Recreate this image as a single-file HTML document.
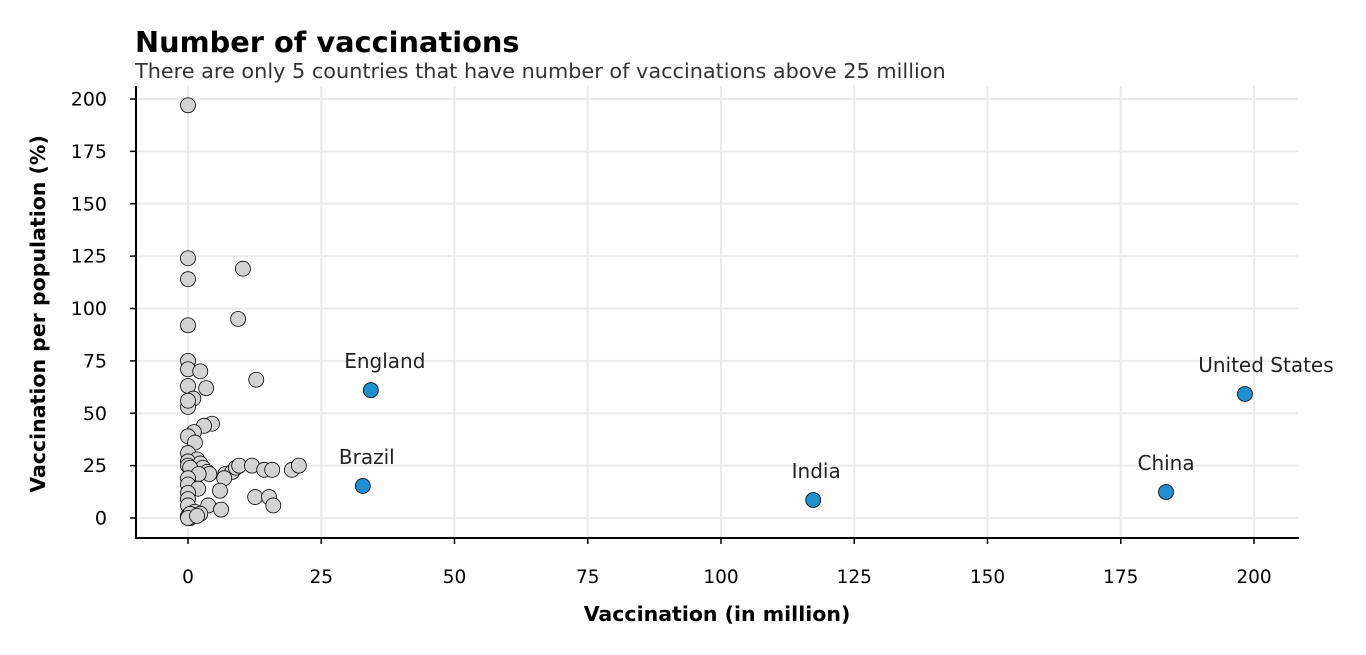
<!DOCTYPE html>
<html><head><meta charset="utf-8"><style>
body{margin:0;background:#fff;}
svg{display:block;font-family:"DejaVu Sans","Liberation Sans",sans-serif;}
</style></head><body>
<svg id="chart" width="1366" height="655">
<text x="135" y="52" font-size="28.8" font-weight="bold" fill="#000">Number of vaccinations</text>
<text x="135" y="78" font-size="20.8" fill="#333">There are only 5 countries that have number of vaccinations above 25 million</text>
<g id="grid"></g>
<g id="axes"></g>
<g id="points"></g>
<text x="717" y="621" font-size="20.5" font-weight="bold" text-anchor="middle">Vaccination (in million)</text>
<text transform="translate(45,314) rotate(-90)" font-size="20.5" font-weight="bold" text-anchor="middle">Vaccination per population (%)</text>
</svg>
<script>
const xTicks=[0,25,50,75,100,125,150,175,200];
const yTicks=[0,25,50,75,100,125,150,175,200];
const grayX=[0,0,0,10.3,0,9.4,0,0,2.3,12.8,0,3.4,1,0,0,4.5,3,1.1,0,1.3,0,1.7,0,2.3,0,2.8,3.6,4,7,8.3,9,9.6,12,14.3,15.8,19.5,20.8,0.4,2,6.8,0,0,1.9,6,0,0,12.6,15.2,16,3.8,6.2,0,1.3,2.3,0,0.4,0.4,0,1.7];
const grayY=[197,124,114,119,92,95,75,71,70,66,63,62,57,53,56,45,44,41,39,36,31,28,27,26,25,24,22,21,21,22,24,25,25,23,23,23,25,24,21,19,19,16,14,13,12,9,10,10,6,6,4,6,3,2,1,0,2,0,1];
const countries=["England","Brazil","India","China","United States"];
const countryX=[34.3,32.8,117.3,183.5,198.3];
const countryY=[61,15.3,8.6,12.4,59.2];
const labelShift=[14,4,3,0,21];
const NS="http://www.w3.org/2000/svg";
const sx=v=>188+v*5.33;
const sy=v=>518-v*2.095;
function mk(tag,attrs,parent){const e=document.createElementNS(NS,tag);for(const k in attrs)e.setAttribute(k,attrs[k]);parent.appendChild(e);return e;}
const grid=document.getElementById('grid'),axes=document.getElementById('axes'),pts=document.getElementById('points');
xTicks.forEach(t=>{
 const l=mk('line',{x1:sx(t),x2:sx(t),y1:86,y2:538,stroke:'#ebebeb','stroke-width':2},grid);
 
 
 mk('line',{x1:sx(t),x2:sx(t),y1:538,y2:544,stroke:'#000','stroke-width':1.5},axes);
 const tx=mk('text',{x:sx(t),y:583,'font-size':18.5,'text-anchor':'middle'},axes);tx.textContent=t;
 
 
});
yTicks.forEach(t=>{
 const l=mk('line',{x1:136,x2:1298,y1:sy(t),y2:sy(t),stroke:'#ebebeb','stroke-width':2},grid);
 
 
 mk('line',{x1:130,x2:136,y1:sy(t),y2:sy(t),stroke:'#000','stroke-width':1.5},axes);
 const tx=mk('text',{x:107,y:sy(t)+6.5,'font-size':19,'text-anchor':'end'},axes);tx.textContent=t;
 
 
});
const ys=mk('line',{x1:136,x2:136,y1:86,y2:539,stroke:'#000','stroke-width':2},axes);


const xs=mk('line',{x1:135,x2:1299,y1:538,y2:538,stroke:'#000','stroke-width':2},axes);


grayX.forEach((x,i)=>{
 const c=mk('circle',{cx:sx(x),cy:sy(grayY[i]),r:7.5,fill:'#d3d3d3',stroke:'#000','stroke-width':0.8},pts);
 
 
});
countries.forEach((n,i)=>{
 const c=mk('circle',{cx:sx(countryX[i]),cy:sy(countryY[i]),r:7.5,fill:'#1f8fd0',stroke:'#000','stroke-width':0.8},pts);
 
 
 const t=mk('text',{x:sx(countryX[i])+labelShift[i],y:sy(countryY[i])-22,'font-size':20,'text-anchor':'middle',fill:'#222'},pts);t.textContent=n;
 
 
});
</script>
</body></html>
